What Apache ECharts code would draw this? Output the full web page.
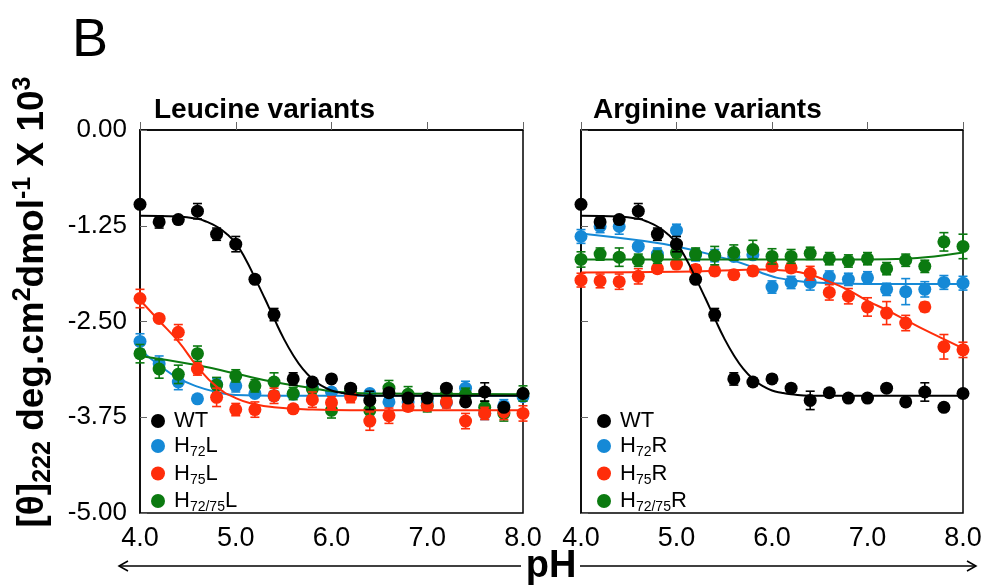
<!DOCTYPE html>
<html><head><meta charset="utf-8">
<script src="https://cdn.jsdelivr.net/npm/echarts@6/dist/echarts.min.js"></script>
<style>html,body{margin:0;padding:0;background:#fff}#c{width:988px;height:588px}</style>
</head><body><div id="c"></div>
<script>
// ---------- data ----------
const pH = [4.0,4.2,4.4,4.6,4.8,5.0,5.2,5.4,5.6,5.8,6.0,6.2,6.4,6.6,6.8,7.0,7.2,7.4,7.6,7.8,8.0];
const xTickLabels = ['4.0','5.0','6.0','7.0','8.0'];
const yTickLabels = ['-5.00','-3.75','-2.50','-1.25','0.00'];

// WT (shown in both panels)
const wt     = [-0.97,-1.20,-1.17,-1.06,-1.36,-1.49,-1.95,-2.41,-3.25,-3.29,-3.25,-3.37,-3.53,-3.43,-3.50,-3.50,-3.37,-3.55,-3.42,-3.62,-3.44];
const wtErr  = [0.03,0.08,0.05,0.10,0.08,0.10,0.05,0.08,0.08,0.05,0.05,0.05,0.12,0.05,0.05,0.05,0.05,0.05,0.12,0.05,0.05];
const wtFitX = [4.0,4.4,4.6,4.7,4.8,4.9,5.0,5.1,5.2,5.3,5.4,5.5,5.6,5.7,5.8,5.9,6.0,6.1,6.2,6.4,7.0,8.0];
const wtFitY = [-1.12,-1.13,-1.16,-1.20,-1.26,-1.35,-1.48,-1.68,-1.93,-2.19,-2.46,-2.72,-2.94,-3.12,-3.25,-3.34,-3.40,-3.43,-3.45,-3.47,-3.47,-3.47];

// Leucine variants
const h72L     = [-2.76,-3.05,-3.29,-3.51,-3.32,-3.34,-3.44,-3.47,-3.45,-3.36,-3.42,-3.45,-3.44,-3.55,-3.55,-3.55,-3.56,-3.37,-3.70,-3.60,-3.48];
const h72LErr  = [0.10,0.10,0.10,0.05,0.08,0.08,0.05,0.05,0.05,0.05,0.05,0.05,0.05,0.05,0.05,0.05,0.05,0.09,0.08,0.08,0.05];
const h72LFitX = [4.0,4.2,4.4,4.6,4.8,5.0,5.4,6.0,8.0];
const h72LFitY = [-2.87,-3.07,-3.24,-3.35,-3.42,-3.46,-3.47,-3.47,-3.47];

const h75L     = [-2.20,-2.46,-2.64,-3.12,-3.49,-3.65,-3.65,-3.47,-3.64,-3.52,-3.56,-3.48,-3.80,-3.73,-3.61,-3.60,-3.55,-3.80,-3.70,-3.68,-3.70];
const h75LErr  = [0.12,0.05,0.10,0.08,0.12,0.08,0.10,0.10,0.05,0.10,0.08,0.08,0.12,0.10,0.06,0.06,0.08,0.10,0.08,0.10,0.10];
const h75LFitX = [4.0,4.2,4.4,4.6,4.8,5.0,5.2,5.4,5.8,6.2,8.0];
const h75LFitY = [-2.22,-2.49,-2.76,-3.09,-3.35,-3.50,-3.58,-3.62,-3.65,-3.66,-3.66];

const h7275L     = [-2.92,-3.12,-3.19,-2.92,-3.33,-3.21,-3.34,-3.29,-3.44,-3.38,-3.66,-3.40,-3.66,-3.37,-3.45,-3.60,-3.45,-3.45,-3.62,-3.70,-3.44];
const h7275LErr  = [0.12,0.12,0.12,0.10,0.10,0.08,0.08,0.12,0.08,0.08,0.10,0.08,0.08,0.10,0.10,0.08,0.08,0.08,0.08,0.10,0.10];
const h7275LFitX = [4.0,4.6,5.0,5.4,5.8,6.0,6.4,8.0];
const h7275LFitY = [-2.95,-3.07,-3.18,-3.29,-3.37,-3.41,-3.44,-3.45];

// Arginine variants
const h72R     = [-1.39,-1.26,-1.26,-1.52,-1.62,-1.31,-1.63,-1.64,-1.65,-1.63,-2.05,-1.99,-1.99,-1.92,-1.95,-1.93,-2.08,-2.11,-2.08,-1.99,-2.00];
const h72RErr  = [0.09,0.08,0.10,0.05,0.08,0.08,0.08,0.08,0.05,0.05,0.08,0.08,0.10,0.08,0.08,0.08,0.08,0.17,0.10,0.09,0.09];
const h72RFitX = [4.0,4.6,5.0,5.4,5.8,5.9,6.2,6.6,7.0,8.0];
const h72RFitY = [-1.35,-1.44,-1.52,-1.64,-1.79,-1.87,-1.96,-2.00,-2.01,-2.01];

const h75R     = [-1.96,-1.97,-1.98,-1.91,-1.81,-1.75,-1.82,-1.84,-1.89,-1.84,-1.78,-1.80,-1.87,-2.12,-2.17,-2.31,-2.39,-2.52,-2.31,-2.83,-2.87];
const h75RErr  = [0.09,0.09,0.10,0.10,0.06,0.06,0.06,0.06,0.06,0.06,0.06,0.06,0.09,0.10,0.10,0.12,0.15,0.10,0.06,0.16,0.10];
const h75RFitX = [4.0,5.0,5.6,5.9,6.2,6.4,6.6,6.8,7.0,7.2,7.4,7.6,7.8,8.0];
const h75RFitY = [-1.86,-1.85,-1.83,-1.82,-1.84,-1.89,-1.98,-2.09,-2.23,-2.35,-2.48,-2.61,-2.73,-2.85];

const h7275R     = [-1.69,-1.62,-1.66,-1.70,-1.66,-1.60,-1.62,-1.64,-1.60,-1.56,-1.65,-1.65,-1.61,-1.68,-1.71,-1.68,-1.81,-1.70,-1.78,-1.46,-1.52];
const h7275RErr  = [0.10,0.08,0.12,0.08,0.08,0.06,0.08,0.12,0.10,0.12,0.10,0.09,0.08,0.08,0.08,0.08,0.08,0.08,0.08,0.12,0.16];
const h7275RFitX = [4.0,5.0,6.0,7.0,7.4,7.7,8.0];
const h7275RFitY = [-1.69,-1.69,-1.69,-1.69,-1.68,-1.65,-1.60];

// ---------- styling ----------
const C = {wt:'#000000', blue:'#1589d6', red:'#ff2d0a', green:'#0b7a10'};
const FONT = '"Liberation Sans", Arial, sans-serif';

function errSeries(ax, ys, errs, color, z){
  return {
    type:'custom', xAxisIndex:ax, yAxisIndex:ax, z:z, silent:true,
    data: pH.map((x,i)=>[x, ys[i], errs[i]]),
    renderItem:(params, api)=>{
      const x = api.value(0), y = api.value(1), e = api.value(2);
      const t = api.coord([x, y + e]), b = api.coord([x, y - e]);
      const w = 4.5, st = {stroke:color, lineWidth:1.6};
      return {type:'group', children:[
        {type:'line', shape:{x1:t[0],y1:t[1],x2:b[0],y2:b[1]}, style:st},
        {type:'line', shape:{x1:t[0]-w,y1:t[1],x2:t[0]+w,y2:t[1]}, style:st},
        {type:'line', shape:{x1:b[0]-w,y1:b[1],x2:b[0]+w,y2:b[1]}, style:st}
      ]};
    }
  };
}
function pts(ax, name, ys, color, z){
  return {type:'scatter', name:name, xAxisIndex:ax, yAxisIndex:ax, z:z,
    symbol:'circle', symbolSize:13, itemStyle:{color:color, opacity:1},
    data: pH.map((x,i)=>[x, ys[i]])};
}
function fit(ax, xs, ys, color, z){
  return {type:'line', name:'fit', xAxisIndex:ax, yAxisIndex:ax, z:z,
    showSymbol:false, smooth:0.5, silent:true,
    lineStyle:{color:color, width:2},
    data: xs.map((x,i)=>[x, ys[i]])};
}
function group(ax, name, ys, errs, fx, fy, color, z){
  return [errSeries(ax, ys, errs, color, z), pts(ax, name, ys, color, z), fit(ax, fx, fy, color, z)];
}

const legendLabels = {
  'WT_L':'{m|WT}', 'H72L':'{m|H}{s|72}{m|L}', 'H75L':'{m|H}{s|75}{m|L}', 'H7275L':'{m|H}{s|72/75}{m|L}',
  'WT_R':'{m|WT}', 'H72R':'{m|H}{s|72}{m|R}', 'H75R':'{m|H}{s|75}{m|R}', 'H7275R':'{m|H}{s|72/75}{m|R}'
};
const legRich = {
  m:{fontSize:22, lineHeight:27, fontFamily:FONT, color:'#000'},
  s:{fontSize:14, lineHeight:10, verticalAlign:'bottom', fontFamily:FONT, color:'#000'}
};
function legend(left, names){
  return {orient:'vertical', left:left, top:405, itemWidth:22, itemHeight:14, itemGap:3,
    icon:'circle', selectedMode:false, data:names,
    formatter:(n)=>legendLabels[n], textStyle:{rich:legRich}};
}

function xAxis(gi){
  return {type:'value', gridIndex:gi, min:4, max:8, interval:1,
    axisLine:{show:true, lineStyle:{color:'#000', width:1.5}},
    axisTick:{show:true, inside:true, length:8, lineStyle:{color:'#666', width:1}},
    splitLine:{show:false},
    axisLabel:{fontSize:27, fontFamily:FONT, color:'#000', margin:12,
      formatter:(v)=>xTickLabels[Math.round(v-4)]}};
}
function yAxis(gi, labels){
  return {type:'value', gridIndex:gi, min:-5, max:0, interval:1.25,
    axisLine:{show:true, lineStyle:{color:'#000', width:1.5}},
    axisTick:{show:true, inside:true, length:7, lineStyle:{color:'#666', width:1}},
    splitLine:{show:false},
    axisLabel:{show:labels, fontSize:26, fontFamily:FONT, color:'#000', margin:13,
      formatter:(v)=>yTickLabels[Math.round((v+5)/1.25)]}};
}

const chart = echarts.init(document.getElementById('c'), null, {renderer:'canvas'});
chart.setOption({
  animation:false,
  backgroundColor:'#fff',
  textStyle:{fontFamily:FONT},
  grid:[
    {left:140, top:130, width:383, height:383, show:true, borderColor:'#000', borderWidth:1.5, backgroundColor:'transparent'},
    {left:581, top:130, width:382, height:383, show:true, borderColor:'#000', borderWidth:1.5, backgroundColor:'transparent'}
  ],
  xAxis:[xAxis(0), xAxis(1)],
  yAxis:[yAxis(0,true), yAxis(1,false)],
  title:[
    {text:'Leucine variants', left:149, top:91, textStyle:{fontSize:28, fontWeight:'bold', fontFamily:FONT, color:'#000'}},
    {text:'Arginine variants', left:588, top:91, textStyle:{fontSize:28, fontWeight:'bold', fontFamily:FONT, color:'#000'}},
    {text:'B', left:67, top:9, textStyle:{fontSize:54, fontWeight:'normal', fontFamily:FONT, color:'#000'}}
  ],
  legend:[
    legend(146, ['WT_L','H72L','H75L','H7275L']),
    legend(592, ['WT_R','H72R','H75R','H7275R'])
  ],
  graphic:[
    {type:'text', x:33, y:302, rotation:Math.PI/2, style:{
      text:'{m|[θ]}{sb|222}{m| deg.cm}{sp|2}{m|dmol}{sp|-1}{m| X 10}{sp|3}',
      align:'center', verticalAlign:'middle', fill:'#000',
      rich:{
        m:{fontSize:37, fontWeight:'bold', lineHeight:45, fontFamily:FONT, color:'#000'},
        sb:{fontSize:25, fontWeight:'bold', lineHeight:18, verticalAlign:'bottom', fontFamily:FONT, color:'#000'},
        sp:{fontSize:25, fontWeight:'bold', lineHeight:24, verticalAlign:'top', fontFamily:FONT, color:'#000'}
      }}},
    {type:'text', x:551, y:567, style:{text:'pH', align:'center', verticalAlign:'middle',
      font:'bold 38px "Liberation Sans", Arial, sans-serif', fill:'#000'}},
    {type:'line', shape:{x1:119, y1:566, x2:521, y2:566}, style:{stroke:'#000', lineWidth:1.5}},
    {type:'polyline', shape:{points:[[128,561],[119,566],[128,571]]}, style:{stroke:'#000', lineWidth:1.5, fill:null}},
    {type:'line', shape:{x1:580, y1:566, x2:976, y2:566}, style:{stroke:'#000', lineWidth:1.5}},
    {type:'polyline', shape:{points:[[967,561],[976,566],[967,571]]}, style:{stroke:'#000', lineWidth:1.5, fill:null}}
  ],
  series:[
    ...group(0,'H72L',  h72L,  h72LErr,  h72LFitX,  h72LFitY,  C.blue, 2),
    ...group(0,'H7275L',h7275L,h7275LErr,h7275LFitX,h7275LFitY,C.green,3),
    ...group(0,'H75L',  h75L,  h75LErr,  h75LFitX,  h75LFitY,  C.red,  4),
    ...group(0,'WT_L',  wt,    wtErr,    wtFitX,    wtFitY,    C.wt,   5),
    ...group(1,'H72R',  h72R,  h72RErr,  h72RFitX,  h72RFitY,  C.blue, 2),
    ...group(1,'H75R',  h75R,  h75RErr,  h75RFitX,  h75RFitY,  C.red,  3),
    ...group(1,'H7275R',h7275R,h7275RErr,h7275RFitX,h7275RFitY,C.green,4),
    ...group(1,'WT_R',  wt,    wtErr,    wtFitX,    wtFitY,    C.wt,   5)
  ]
});
</script>
</body></html>
